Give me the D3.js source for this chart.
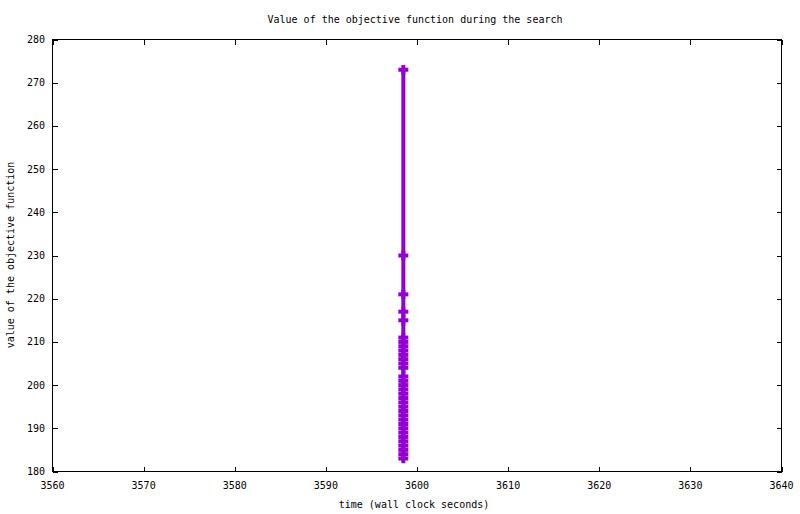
<!DOCTYPE html>
<html><head><meta charset="utf-8">
<script src="https://cdn.jsdelivr.net/npm/d3@7"></script>
<style>body{margin:0;background:#fff}svg text{font-family:"DejaVu Sans Mono",monospace;font-size:10px;fill:#000}</style>
</head><body><svg id="c" width="800" height="514"></svg>
<script>
const title = "Value of the objective function during the search";
const xLabel = "time (wall clock seconds)";
const yLabel = "value of the objective function";
const xTicks = [3560,3570,3580,3590,3600,3610,3620,3630,3640];
const yTicks = [180,190,200,210,220,230,240,250,260,270,280];
const times = [3598.5,3598.5,3598.5,3598.5,3598.5,3598.5,3598.5,3598.5,3598.5,3598.5,3598.5,3598.5,3598.5,3598.5,3598.5,3598.5,3598.5,3598.5,3598.5,3598.5,3598.5,3598.5,3598.5,3598.5,3598.5,3598.5,3598.5,3598.5,3598.5,3598.5,3598.5,3598.5,3598.5];
const values = [273,230,221,217,215,211,210,209,208,207,206,205,204,202,201,200,199,198,197,196,195,194,193,192,191,190,189,188,187,186,185,184,183];
const svg = d3.select("#c");
const L=52.5,R=781.5,T=39.5,B=471.5;
const x = d3.scaleLinear().domain([3560,3640]).range([L,R]);
const y = d3.scaleLinear().domain([180,280]).range([B,T]);
const data = values.map((v,i)=>({t: times[i], v}));
// ticks
const g = svg.append("g").attr("stroke","#000").attr("stroke-width",1).attr("shape-rendering","crispEdges");
xTicks.forEach(t=>{
  const px = Math.round(x(t))+0.5;
  g.append("line").attr("x1",px).attr("x2",px).attr("y1",B).attr("y2",B-5);
  g.append("line").attr("x1",px).attr("x2",px).attr("y1",T).attr("y2",T+5);
});
yTicks.forEach(t=>{
  const py = Math.round(y(t))+0.5;
  g.append("line").attr("x1",L).attr("x2",L+5).attr("y1",py).attr("y2",py);
  g.append("line").attr("x1",R).attr("x2",R-5).attr("y1",py).attr("y2",py);
});
svg.append("rect").attr("x",L).attr("y",T).attr("width",R-L).attr("height",B-T)
  .attr("fill","none").attr("stroke","#000").attr("shape-rendering","crispEdges");
svg.append("g").selectAll("text").data(xTicks).join("text")
  .attr("x",d=>x(d)).attr("y",489).attr("text-anchor","middle").text(d=>d);
svg.append("g").selectAll("text").data(yTicks).join("text")
  .attr("x",45).attr("y",d=>y(d)+3.5).attr("text-anchor","end").text(d=>d);
svg.append("text").attr("x",415).attr("y",23).attr("text-anchor","middle").text(title);
svg.append("text").attr("x",414).attr("y",508).attr("text-anchor","middle").text(xLabel);
svg.append("text").attr("transform","translate(14,255) rotate(-90)").attr("text-anchor","middle").text(yLabel);
// series
const col="#9400D3";
svg.append("path").datum(data).attr("fill","none").attr("stroke",col).attr("stroke-width",4)
  .attr("d",d3.line().x(d=>x(d.t)).y(d=>y(d.v)));
const pts = svg.append("g").attr("stroke",col).attr("stroke-width",4);
data.forEach(d=>{
  const px=x(d.t), py=y(d.v);
  pts.append("line").attr("x1",px-5).attr("x2",px+5).attr("y1",py).attr("y2",py);
  pts.append("line").attr("x1",px).attr("x2",px).attr("y1",py-4.7).attr("y2",py+4.7);
});
</script></body></html>
